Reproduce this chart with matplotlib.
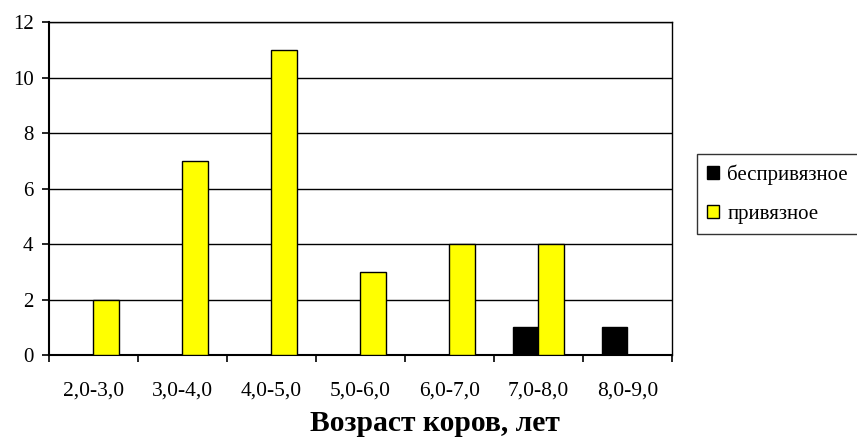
import numpy as np
import matplotlib.pyplot as plt
from matplotlib.patches import Patch

plt.rcParams['font.family'] = ['Liberation Serif', 'DejaVu Serif']

categories = ['2,0-3,0', '3,0-4,0', '4,0-5,0', '5,0-6,0', '6,0-7,0', '7,0-8,0', '8,0-9,0']
loose = [0, 0, 0, 0, 0, 1, 1]       # беспривязное
tied = [2, 7, 11, 3, 4, 4, 0]       # привязное
y_ticks = [0, 2, 4, 6, 8, 10, 12]

fig = plt.figure(figsize=(8.57, 4.4), dpi=100)
ax = fig.add_axes([0.057, 0.193, 0.727, 0.757])

x = np.arange(len(categories))
w = 0.29
ax.bar(x - w / 2, loose, w, color='black', edgecolor='black', linewidth=1, zorder=3)
ax.bar(x + w / 2, tied, w, color='#ffff00', edgecolor='black', linewidth=1, zorder=3)

ax.set_xlim(-0.5, len(categories) - 0.5)
ax.set_ylim(0, 12)
ax.set_yticks(y_ticks)
ax.set_yticklabels([str(v) for v in y_ticks], fontsize=15)
ax.set_xticks(x)
ax.set_xticklabels(categories, fontsize=15.5)
ax.tick_params(axis='x', length=0, pad=19)
ax.set_xticks(np.arange(len(categories) + 1) - 0.5, minor=True)
ax.tick_params(axis='x', which='minor', length=5, width=1.2, direction='out')
ax.tick_params(axis='y', length=5, width=1.2, direction='out', pad=6)
ax.grid(axis='y', color='black', linewidth=1, zorder=0)
for s in ax.spines.values():
    s.set_color('black')
    s.set_linewidth(1)
ax.spines['bottom'].set_linewidth(1.5)
ax.spines['left'].set_linewidth(1.5)

# axis title sits right of the plot centre in the original
ax.set_xlabel('Возраст коров, лет', fontsize=21.3, fontweight='bold', va='center')
ax.xaxis.set_label_coords(0.62, -0.204)

handles = [Patch(facecolor='black', edgecolor='black', label='беспривязное'),
           Patch(facecolor='#ffff00', edgecolor='black', label='привязное')]
leg = fig.legend(handles=handles, loc='upper left', bbox_to_anchor=(697 / 857, 1 - 154 / 440),
                 fontsize=15, frameon=True, fancybox=False, edgecolor='black',
                 handlelength=0.55, handleheight=0.55, handletextpad=0.4,
                 labelspacing=0.95, borderpad=0.5, borderaxespad=0)
leg.get_frame().set_linewidth(1)

fig.savefig('out.png', dpi=100)
